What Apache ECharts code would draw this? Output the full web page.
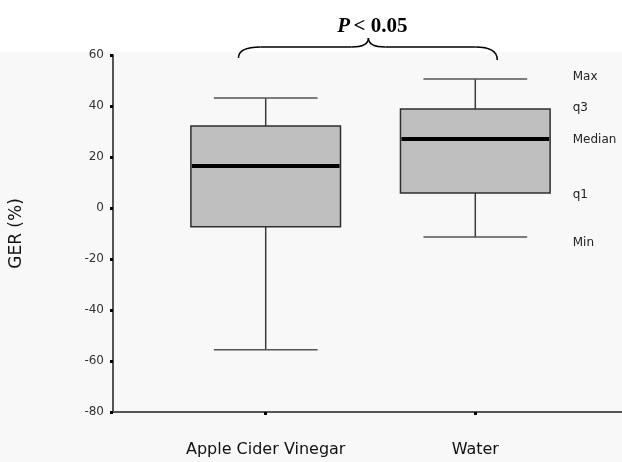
<!DOCTYPE html>
<html>
<head>
<meta charset="utf-8">
<script src="https://cdn.jsdelivr.net/npm/echarts@6/dist/echarts.min.js"></script>
<style>html,body{margin:0;padding:0;background:#fff}#c{width:622px;height:462px}</style>
</head>
<body>
<div id="c"></div>
<script>
// ---- data ----
const categories = ['Apple Cider Vinegar', 'Water'];
const minVals    = [-55.6, -11.4];
const q1Vals     = [-7.4, 5.9];
const medianVals = [16.5, 27.1];
const q3Vals     = [32.2, 38.8];
const maxVals    = [43.1, 50.6];
const yTicks     = [-80, -60, -40, -20, 0, 20, 40, 60];
const annoLabels = ['Max', 'q3', 'Median', 'q1', 'Min'];
const annoValues = [51.4, 39.2, 26.7, 5.1, -13.7];
const annoX      = 1.465;
const pText      = 'P';
const pRest      = '< 0.05';

const boxData = categories.map((c, i) => [i, minVals[i], q1Vals[i], medianVals[i], q3Vals[i], maxVals[i]]);
const annoData = annoValues.map((v, i) => [annoX, v, i]);

const chart = echarts.init(document.getElementById('c'), null, {renderer: 'canvas'});
const BOX_W = 0.714, CAP_W = 0.495;

function renderBox(params, api) {
  const x = api.value(0);
  const pMin = api.coord([x, api.value(1)]);
  const pQ1 = api.coord([x, api.value(2)]);
  const pMed = api.coord([x, api.value(3)]);
  const pQ3 = api.coord([x, api.value(4)]);
  const pMax = api.coord([x, api.value(5)]);
  const bw = api.size([BOX_W, 0])[0];
  const cw = api.size([CAP_W, 0])[0];
  const cx = pMed[0];
  const wStyle = {stroke: '#3a3a3a', lineWidth: 1.5};
  return {
    type: 'group',
    children: [
      {type: 'line', shape: {x1: cx, y1: pMax[1], x2: cx, y2: pQ3[1]}, style: wStyle},
      {type: 'line', shape: {x1: cx, y1: pQ1[1], x2: cx, y2: pMin[1]}, style: wStyle},
      {type: 'line', shape: {x1: cx - cw / 2, y1: pMax[1], x2: cx + cw / 2, y2: pMax[1]}, style: {stroke: '#555', lineWidth: 1.5}},
      {type: 'line', shape: {x1: cx - cw / 2, y1: pMin[1], x2: cx + cw / 2, y2: pMin[1]}, style: {stroke: '#555', lineWidth: 1.5}},
      {type: 'rect', shape: {x: cx - bw / 2, y: pQ3[1], width: bw, height: pQ1[1] - pQ3[1]},
        style: {fill: '#bfbfbf', stroke: '#2f2f2f', lineWidth: 1.5}},
      {type: 'line', shape: {x1: cx - bw / 2 + 1, y1: pMed[1], x2: cx + bw / 2 - 1, y2: pMed[1]}, style: {stroke: '#000', lineWidth: 4}}
    ]
  };
}

function renderAnno(params, api) {
  const p = api.coord([api.value(0), api.value(1)]);
  const label = annoLabels[api.value(2)];
  return {
    type: 'text',
    x: p[0], y: p[1],
    style: {text: label, fill: '#222', font: '12px "DejaVu Sans"', align: 'left', verticalAlign: 'middle', textAlign: 'left', textVerticalAlign: 'middle'}
  };
}

chart.setOption({
  backgroundColor: '#ffffff',
  animation: false,
  grid: {left: 112, right: 0, top: 55, bottom: 50, containLabel: false},
  xAxis: {
    type: 'value', min: -0.7286, max: 1.7,
    splitLine: {show: false},
    axisLine: {show: true, onZero: false, lineStyle: {color: '#555', width: 2}},
    axisTick: {show: true, customValues: [0, 1], length: 3, lineStyle: {color: '#000', width: 3}},
    axisLabel: {show: true, customValues: [0, 1], margin: 30,
      formatter: v => categories[Math.round(v)] || '',
      color: '#111', fontSize: 16, fontFamily: 'DejaVu Sans'}
  },
  yAxis: {
    type: 'value', min: -80, max: 60, interval: 20,
    name: 'GER (%)', nameLocation: 'middle', nameGap: 88, nameRotate: 90,
    nameTextStyle: {color: '#111', fontSize: 17, fontFamily: 'DejaVu Sans'},
    splitLine: {show: false},
    axisLine: {show: true, onZero: false, lineStyle: {color: '#555', width: 2}},
    axisTick: {show: true, length: 3, lineStyle: {color: '#000', width: 3}},
    axisLabel: {margin: 9, color: '#333', fontSize: 12, fontFamily: 'DejaVu Sans',
      formatter: v => (yTicks.indexOf(v) >= 0 ? String(v) : '')}
  },
  series: [
    {type: 'custom', renderItem: renderBox, data: boxData, encode: {x: 0, y: [1, 2, 3, 4, 5]}, z: 5},
    {type: 'custom', renderItem: renderAnno, data: annoData, encode: {x: 0, y: 1}, z: 5}
  ]
});

// bracket and significance text, positioned from the chart's own scales
const pL = chart.convertToPixel({gridIndex: 0}, [-0.13, 60]);
const pR = chart.convertToPixel({gridIndex: 0}, [1.105, 60]);
const pM = chart.convertToPixel({gridIndex: 0}, [0.49, 60]);
const xL = pL[0], xR = pR[0], xM = pM[0], y60 = pL[1];
const yEnd = y60 + 3, yH = y60 - 8, yPk = y60 - 17;
const bStyle = {fill: 'none', stroke: '#000', lineWidth: 1.5};
function quad(x1, y1, cx, cy, x2, y2) {
  return {type: 'bezierCurve', z: 10, silent: true,
    shape: {x1: x1, y1: y1, x2: x2, y2: y2, cpx1: cx, cpy1: cy}, style: bStyle};
}
function seg(x1, y1, x2, y2) {
  return {type: 'line', z: 10, silent: true, shape: {x1: x1, y1: y1, x2: x2, y2: y2}, style: bStyle};
}

chart.setOption({
  graphic: [
    {type: 'rect', z: -10, silent: true, shape: {x: 0, y: 52, width: 622, height: 410}, style: {fill: '#f8f8f8'}},
    quad(xL, yEnd, xL, yH, xL + 22, yH),
    seg(xL + 22, yH, xM - 17, yH),
    quad(xM - 17, yH, xM, yH, xM, yPk),
    quad(xM, yPk, xM, yH, xM + 17, yH),
    seg(xM + 17, yH, xR - 22, yH),
    quad(xR - 22, yH, xR, yH, xR, yEnd + 2),
    {type: 'text', z: 10, silent: true, x: xM + 4, y: y60 - 28,
      style: {text: '{i|' + pText + '} {b|' + pRest + '}', align: 'center', verticalAlign: 'middle',
        rich: {
          i: {font: 'italic bold 21px "Liberation Serif"', fill: '#000'},
          b: {font: 'bold 21px "Liberation Serif"', fill: '#000'}
        }}}
  ]
});
</script>
</body>
</html>
